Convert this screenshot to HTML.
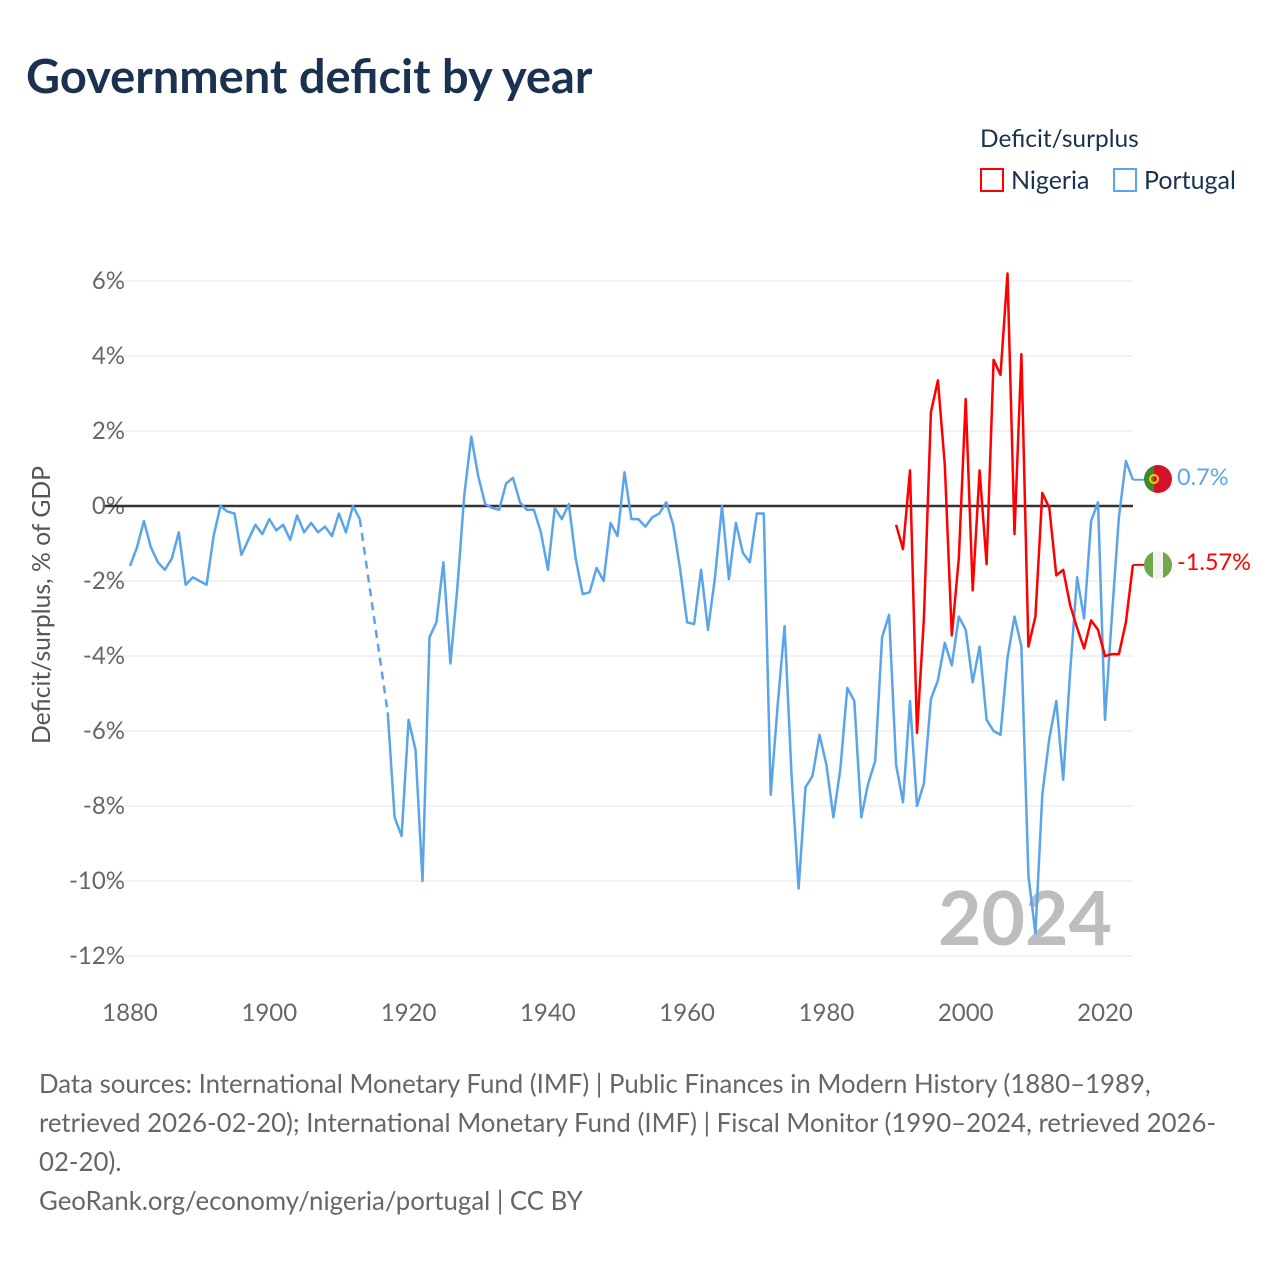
<!DOCTYPE html>
<html><head><meta charset="utf-8"><style>
body{margin:0;background:#fff;font-family:"Liberation Sans",sans-serif}
svg text{font-family:"Lato","Liberation Sans",sans-serif}
</style></head><body>
<svg id="chart" width="1280" height="1280" viewBox="0 0 1280 1280" xmlns="http://www.w3.org/2000/svg">
<text x="26" y="93" font-size="47" font-weight="bold" fill="#1a3150">Government deficit by year</text>
<text x="980" y="147" font-size="24.5" fill="#1a3150">Deficit/surplus</text>
<g><rect x="981" y="169" width="22" height="22" fill="none" stroke="#f00" stroke-width="2"/><text x="1011" y="189" font-size="25" fill="#1a3150">Nigeria</text></g>
<g><rect x="1114" y="169" width="22" height="22" fill="none" stroke="#5aa5ea" stroke-width="2"/><text x="1144" y="189" font-size="25" fill="#1a3150">Portugal</text></g>
<g id="grid"></g><g id="yt"></g><g id="xt"></g>
<text x="1112" y="945" font-size="75" font-weight="bold" fill="#bdbdbd" text-anchor="end">2024</text>
<line x1="105" x2="1133" y1="506" y2="506" stroke="#333" stroke-width="2.5"/>
<g id="series"></g>
<text transform="translate(50,605) rotate(-90)" font-size="24.7" fill="#555" text-anchor="middle">Deficit/surplus, % of GDP</text>
<g><clipPath id="cp1"><circle cx="1158" cy="479" r="14"/></clipPath><g clip-path="url(#cp1)"><rect x="1144" y="465" width="12" height="28" fill="#3a8a2e"/><rect x="1154" y="465" width="20" height="28" fill="#d5102a"/><circle cx="1154" cy="479" r="4" fill="none" stroke="#f5d000" stroke-width="2"/></g></g>
<g><clipPath id="cp2"><circle cx="1158" cy="565" r="14"/></clipPath><g clip-path="url(#cp2)"><rect x="1144" y="551" width="28" height="28" fill="#f2f2f2"/><rect x="1144" y="551" width="9" height="28" fill="#6ea84a"/><rect x="1163" y="551" width="9" height="28" fill="#6ea84a"/></g></g>
<text x="1177" y="485" font-size="23.5" fill="#5aa5ea">0.7%</text>
<text x="1177" y="570" font-size="23.5" fill="#f00">-1.57%</text>
<text font-size="25.8" fill="#666"><tspan x="39" y="1093">Data sources: International Monetary Fund (IMF) | Public Finances in Modern History (1880–1989,</tspan><tspan x="39" y="1132">retrieved 2026-02-20); International Monetary Fund (IMF) | Fiscal Monitor (1990–2024, retrieved 2026-</tspan><tspan x="39" y="1171">02-20).</tspan><tspan x="39" y="1210">GeoRank.org/economy/nigeria/portugal | CC BY</tspan></text>
</svg>
<script>
const portugalStart = 1880;
const portugalValues = [-1.6,-1.1,-0.4,-1.1,-1.5,-1.7,-1.4,-0.7,-2.1,-1.9,-2.0,-2.1,-0.8,0.0,-0.15,-0.2,-1.3,-0.9,-0.5,-0.75,-0.35,-0.65,-0.5,-0.9,-0.25,-0.7,-0.45,-0.7,-0.55,-0.8,-0.2,-0.7,0.0,-0.35,null,null,null,-5.5,-8.3,-8.8,-5.7,-6.5,-10.0,-3.5,-3.1,-1.5,-4.2,-2.2,0.3,1.85,0.8,0.05,-0.05,-0.1,0.6,0.75,0.1,-0.1,-0.1,-0.7,-1.7,-0.05,-0.35,0.05,-1.4,-2.35,-2.3,-1.65,-2.0,-0.45,-0.8,0.9,-0.35,-0.35,-0.55,-0.3,-0.2,0.1,-0.5,-1.7,-3.1,-3.15,-1.7,-3.3,-1.9,0.0,-1.95,-0.45,-1.25,-1.5,-0.2,-0.2,-7.7,-5.3,-3.2,-7.2,-10.2,-7.5,-7.2,-6.1,-6.9,-8.3,-7.0,-4.85,-5.2,-8.3,-7.4,-6.8,-3.5,-2.9,-6.9,-7.9,-5.2,-8.0,-7.4,-5.15,-4.65,-3.65,-4.25,-2.95,-3.3,-4.7,-3.75,-5.7,-6.0,-6.1,-4.05,-2.95,-3.75,-9.85,-11.4,-7.7,-6.2,-5.2,-7.3,-4.4,-1.9,-3.0,-0.4,0.1,-5.7,-2.9,-0.3,1.2,0.7];
const nigeriaStart = 1990;
const nigeriaValues = [-0.5,-1.15,0.95,-6.05,-3.0,2.5,3.35,1.1,-3.45,-1.4,2.85,-2.25,0.95,-1.55,3.9,3.5,6.2,-0.75,4.05,-3.75,-2.95,0.35,-0.05,-1.85,-1.7,-2.65,-3.25,-3.8,-3.05,-3.3,-4.0,-3.95,-3.95,-3.1,-1.57];
const yTicks = [6,4,2,0,-2,-4,-6,-8,-10,-12];
const xTicks = [1880,1900,1920,1940,1960,1980,2000,2020];

const NS="http://www.w3.org/2000/svg";
const xS = y => 130 + (y-1880)*(975/140);
const yS = v => 506 - v*37.5;
function mk(tag, attrs, parent){const e=document.createElementNS(NS,tag);for(const k in attrs)e.setAttribute(k,attrs[k]);parent.appendChild(e);return e;}
const grid=document.getElementById('grid'), yt=document.getElementById('yt'), xt=document.getElementById('xt'), ser=document.getElementById('series');
yTicks.forEach(t=>{
  const l=mk('line',{x1:105,x2:1133,y1:yS(t),y2:yS(t),stroke:'#e6e6e6','stroke-width':1},grid);
  
  
  const tx=mk('text',{x:125,y:yS(t)+8,'font-size':24,fill:'#666','text-anchor':'end'},yt);
  tx.textContent=t+'%';
  
  
});
xTicks.forEach(t=>{
  const tx=mk('text',{x:xS(t),y:1021,'font-size':24,fill:'#666','text-anchor':'middle'},xt);
  tx.textContent=t;
  
  
});
function drawSeries(start, vals, color, name){
  let segs=[], cur=[];
  vals.forEach((v,i)=>{ if(v===null){ if(cur.length) segs.push(cur); cur=[]; } else cur.push([xS(start+i),yS(v)]); });
  if(cur.length) segs.push(cur);
  segs.forEach((s,si)=>{
    const p=mk('path',{d:'M'+s.map(q=>q[0].toFixed(1)+','+q[1].toFixed(1)).join('L'),fill:'none',stroke:color,'stroke-width':2.5,'stroke-linejoin':'round'},ser);
    
    
    if(si<segs.length-1){
      const a=s[s.length-1], b=segs[si+1][0];
      const d=mk('path',{d:`M${a[0]},${a[1]}L${b[0]},${b[1]}`,fill:'none',stroke:color,'stroke-width':2.5,'stroke-dasharray':'8,6'},ser);
      
      
    }
  });
  const last=vals[vals.length-1];
  const c=mk('path',{d:`M${xS(start+vals.length-1)},${yS(last)}L1146,${yS(last)}`,stroke:color,'stroke-width':2,fill:'none'},ser);
  
  
}
drawSeries(portugalStart, portugalValues, '#5aa5ea', 'portugal');
drawSeries(nigeriaStart, nigeriaValues, '#ff0000', 'nigeria');
</script>
</body></html>
